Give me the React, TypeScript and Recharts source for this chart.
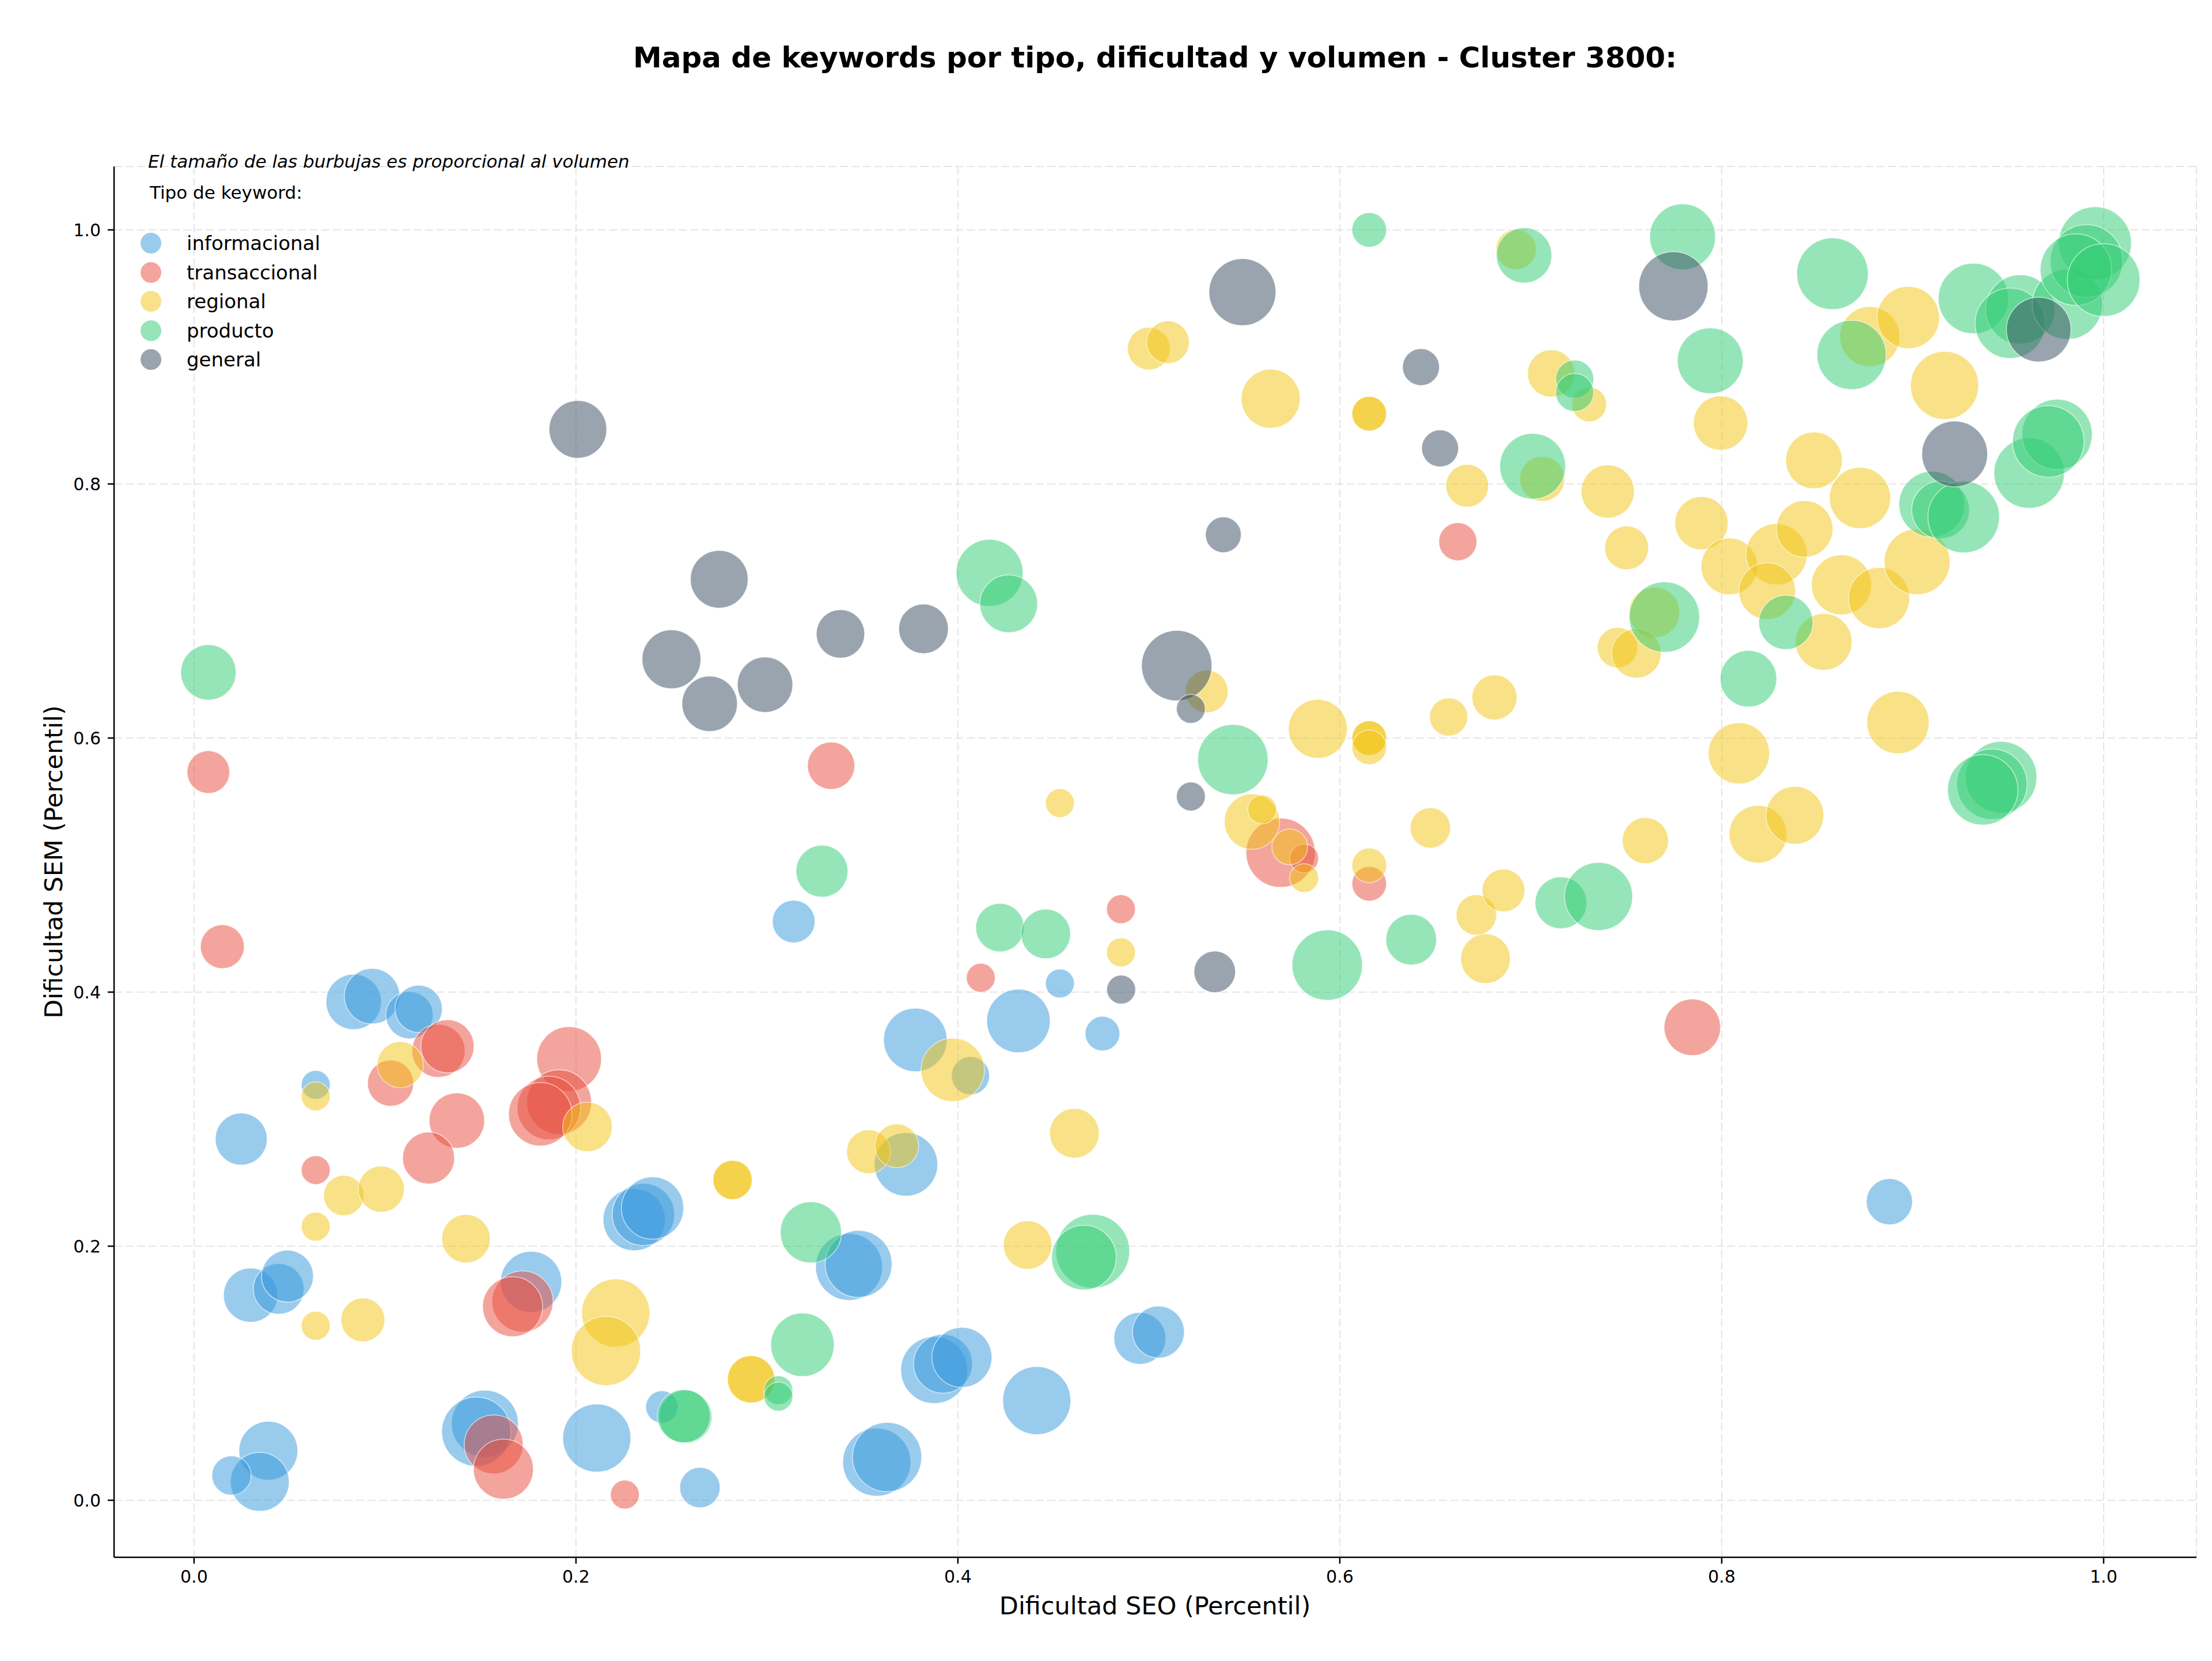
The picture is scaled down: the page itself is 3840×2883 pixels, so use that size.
import React from 'react';
import {
  ScatterChart,
  Scatter,
  XAxis,
  YAxis,
  ZAxis,
  CartesianGrid,
  Legend,
} from 'recharts';

// seo = Dificultad SEO (percentil), sem = Dificultad SEM (percentil), vol = volumen
const informacional = [
  { seo: 0.0637, sem: 0.327, vol: 625 },
  { seo: 0.314, sem: 0.4556, vol: 1369 },
  { seo: 0.0836, sem: 0.3923, vol: 2304 },
  { seo: 0.0932, sem: 0.3968, vol: 2304 },
  { seo: 0.1128, sem: 0.3819, vol: 1681 },
  { seo: 0.1176, sem: 0.3868, vol: 1681 },
  { seo: 0.0247, sem: 0.2843, vol: 2025 },
  { seo: 0.2305, sem: 0.2209, vol: 2916 },
  { seo: 0.2353, sem: 0.225, vol: 2916 },
  { seo: 0.2401, sem: 0.23, vol: 2916 },
  { seo: 0.0296, sem: 0.1615, vol: 2209 },
  { seo: 0.0443, sem: 0.1664, vol: 1936 },
  { seo: 0.0489, sem: 0.1764, vol: 2025 },
  { seo: 0.1765, sem: 0.1719, vol: 2809 },
  { seo: 0.2109, sem: 0.049, vol: 3481 },
  { seo: 0.2649, sem: 0.01, vol: 1225 },
  { seo: 0.1523, sem: 0.0603, vol: 3364 },
  { seo: 0.1478, sem: 0.054, vol: 3600 },
  { seo: 0.0389, sem: 0.039, vol: 2601 },
  { seo: 0.0344, sem: 0.0145, vol: 2601 },
  { seo: 0.0196, sem: 0.0195, vol: 1156 },
  { seo: 0.245, sem: 0.0735, vol: 784 },
  { seo: 0.3728, sem: 0.2644, vol: 3025 },
  { seo: 0.343, sem: 0.1837, vol: 3364 },
  { seo: 0.348, sem: 0.186, vol: 3364 },
  { seo: 0.3876, sem: 0.1025, vol: 3364 },
  { seo: 0.3922, sem: 0.1075, vol: 2601 },
  { seo: 0.4021, sem: 0.1125, vol: 2704 },
  { seo: 0.4413, sem: 0.0785, vol: 3481 },
  { seo: 0.4953, sem: 0.1274, vol: 2025 },
  { seo: 0.505, sem: 0.1324, vol: 2025 },
  { seo: 0.3575, sem: 0.03, vol: 3481 },
  { seo: 0.3629, sem: 0.034, vol: 3600 },
  { seo: 0.8878, sem: 0.235, vol: 1600 },
  { seo: 0.3777, sem: 0.3624, vol: 3025 },
  { seo: 0.4317, sem: 0.3773, vol: 3025 },
  { seo: 0.4757, sem: 0.3673, vol: 900 },
  { seo: 0.4534, sem: 0.4068, vol: 625 },
  { seo: 0.4066, sem: 0.3342, vol: 1089 },
];

const transaccional = [
  { seo: 0.0075, sem: 0.5732, vol: 1369 },
  { seo: 0.0148, sem: 0.4358, vol: 1444 },
  { seo: 0.0637, sem: 0.2599, vol: 625 },
  { seo: 0.1029, sem: 0.3283, vol: 1600 },
  { seo: 0.128, sem: 0.3538, vol: 2116 },
  { seo: 0.1327, sem: 0.3574, vol: 2116 },
  { seo: 0.1964, sem: 0.3474, vol: 3136 },
  { seo: 0.1912, sem: 0.3134, vol: 3136 },
  { seo: 0.1858, sem: 0.3088, vol: 3025 },
  { seo: 0.1813, sem: 0.3039, vol: 3025 },
  { seo: 0.1376, sem: 0.2989, vol: 2304 },
  { seo: 0.1228, sem: 0.2694, vol: 2025 },
  { seo: 0.172, sem: 0.1565, vol: 2809 },
  { seo: 0.1668, sem: 0.1524, vol: 2704 },
  { seo: 0.1569, sem: 0.044, vol: 2601 },
  { seo: 0.162, sem: 0.0245, vol: 2704 },
  { seo: 0.2256, sem: 0.0045, vol: 625 },
  { seo: 0.3336, sem: 0.5782, vol: 1681 },
  { seo: 0.412, sem: 0.4113, vol: 625 },
  { seo: 0.4854, sem: 0.4653, vol: 625 },
  { seo: 0.569, sem: 0.5097, vol: 3600 },
  { seo: 0.5813, sem: 0.5052, vol: 625 },
  { seo: 0.6154, sem: 0.4853, vol: 900 },
  { seo: 0.6618, sem: 0.7546, vol: 1089 },
  { seo: 0.7846, sem: 0.3723, vol: 2401 },
];

const regional = [
  { seo: 0.0637, sem: 0.318, vol: 625 },
  { seo: 0.108, sem: 0.3429, vol: 1600 },
  { seo: 0.206, sem: 0.2939, vol: 1849 },
  { seo: 0.0784, sem: 0.2399, vol: 1225 },
  { seo: 0.098, sem: 0.2449, vol: 1600 },
  { seo: 0.0637, sem: 0.2154, vol: 625 },
  { seo: 0.1424, sem: 0.2059, vol: 1764 },
  { seo: 0.282, sem: 0.2522, vol: 1156 },
  { seo: 0.282, sem: 0.2522, vol: 1156 },
  { seo: 0.2917, sem: 0.0952, vol: 1681 },
  { seo: 0.2917, sem: 0.0952, vol: 1681 },
  { seo: 0.0637, sem: 0.1374, vol: 625 },
  { seo: 0.0884, sem: 0.142, vol: 1444 },
  { seo: 0.2208, sem: 0.1474, vol: 3481 },
  { seo: 0.2157, sem: 0.1175, vol: 3600 },
  { seo: 0.3532, sem: 0.2744, vol: 1444 },
  { seo: 0.368, sem: 0.279, vol: 1444 },
  { seo: 0.461, sem: 0.2889, vol: 1849 },
  { seo: 0.4365, sem: 0.2009, vol: 1764 },
  { seo: 0.3973, sem: 0.3388, vol: 3025 },
  { seo: 0.4854, sem: 0.4313, vol: 625 },
  { seo: 0.4534, sem: 0.5488, vol: 625 },
  { seo: 0.5, sem: 0.9066, vol: 1369 },
  { seo: 0.51, sem: 0.9116, vol: 1369 },
  { seo: 0.5638, sem: 0.8671, vol: 2601 },
  { seo: 0.6154, sem: 0.8553, vol: 900 },
  { seo: 0.6154, sem: 0.8553, vol: 900 },
  { seo: 0.6667, sem: 0.7986, vol: 1369 },
  { seo: 0.5303, sem: 0.6367, vol: 1369 },
  { seo: 0.5885, sem: 0.6073, vol: 2601 },
  { seo: 0.6154, sem: 0.6, vol: 900 },
  { seo: 0.6154, sem: 0.6, vol: 900 },
  { seo: 0.6154, sem: 0.5927, vol: 900 },
  { seo: 0.657, sem: 0.6166, vol: 1089 },
  { seo: 0.681, sem: 0.632, vol: 1521 },
  { seo: 0.554, sem: 0.5342, vol: 2304 },
  { seo: 0.5593, sem: 0.5438, vol: 625 },
  { seo: 0.5738, sem: 0.5143, vol: 961 },
  { seo: 0.5813, sem: 0.4898, vol: 625 },
  { seo: 0.6154, sem: 0.4998, vol: 900 },
  { seo: 0.6474, sem: 0.5293, vol: 1225 },
  { seo: 0.6715, sem: 0.4608, vol: 1225 },
  { seo: 0.6763, sem: 0.4263, vol: 1849 },
  { seo: 0.6857, sem: 0.48, vol: 1369 },
  { seo: 0.6923, sem: 0.9846, vol: 1225 },
  { seo: 0.706, sem: 0.804, vol: 1521 },
  { seo: 0.7107, sem: 0.887, vol: 1681 },
  { seo: 0.7306, sem: 0.8626, vol: 900 },
  { seo: 0.8775, sem: 0.916, vol: 2704 },
  { seo: 0.8977, sem: 0.931, vol: 2916 },
  { seo: 0.7647, sem: 0.6989, vol: 1936 },
  { seo: 0.7454, sem: 0.6712, vol: 1225 },
  { seo: 0.7553, sem: 0.6667, vol: 1849 },
  { seo: 0.8534, sem: 0.6757, vol: 2401 },
  { seo: 0.8923, sem: 0.6122, vol: 2916 },
  { seo: 0.809, sem: 0.588, vol: 2809 },
  { seo: 0.76, sem: 0.5193, vol: 1600 },
  { seo: 0.819, sem: 0.5243, vol: 2500 },
  { seo: 0.8383, sem: 0.5392, vol: 2500 },
  { seo: 0.7994, sem: 0.848, vol: 2209 },
  { seo: 0.7403, sem: 0.7941, vol: 2116 },
  { seo: 0.7502, sem: 0.7497, vol: 1444 },
  { seo: 0.7894, sem: 0.7692, vol: 2116 },
  { seo: 0.804, sem: 0.7351, vol: 2401 },
  { seo: 0.8287, sem: 0.7447, vol: 2809 },
  { seo: 0.8434, sem: 0.7646, vol: 2401 },
  { seo: 0.8483, sem: 0.8186, vol: 2401 },
  { seo: 0.8724, sem: 0.789, vol: 2809 },
  { seo: 0.9167, sem: 0.8776, vol: 3481 },
  { seo: 0.8238, sem: 0.7157, vol: 2401 },
  { seo: 0.8627, sem: 0.7206, vol: 2704 },
  { seo: 0.8824, sem: 0.7102, vol: 2809 },
  { seo: 0.9023, sem: 0.7388, vol: 3249 },
];

const producto = [
  { seo: 0.6154, sem: 1.0, vol: 900 },
  { seo: 0.6965, sem: 0.98, vol: 2304 },
  { seo: 0.4166, sem: 0.73, vol: 3364 },
  { seo: 0.4266, sem: 0.7057, vol: 2500 },
  { seo: 0.7795, sem: 0.9946, vol: 3249 },
  { seo: 0.858, sem: 0.9655, vol: 3844 },
  { seo: 0.794, sem: 0.897, vol: 3249 },
  { seo: 0.868, sem: 0.9016, vol: 3600 },
  { seo: 0.9318, sem: 0.946, vol: 3721 },
  { seo: 0.9563, sem: 0.9374, vol: 3600 },
  { seo: 0.9511, sem: 0.9265, vol: 3721 },
  { seo: 0.981, sem: 0.9415, vol: 3721 },
  { seo: 0.9955, sem: 0.9896, vol: 3969 },
  { seo: 0.991, sem: 0.9755, vol: 3969 },
  { seo: 0.9855, sem: 0.9687, vol: 3844 },
  { seo: 1.0, sem: 0.9605, vol: 3969 },
  { seo: 0.701, sem: 0.814, vol: 3249 },
  { seo: 0.723, sem: 0.8825, vol: 1089 },
  { seo: 0.723, sem: 0.872, vol: 1089 },
  { seo: 0.961, sem: 0.8086, vol: 3721 },
  { seo: 0.9756, sem: 0.839, vol: 3721 },
  { seo: 0.971, sem: 0.8335, vol: 3844 },
  { seo: 0.91, sem: 0.784, vol: 3249 },
  { seo: 0.9146, sem: 0.7796, vol: 2500 },
  { seo: 0.9267, sem: 0.774, vol: 3844 },
  { seo: 0.77, sem: 0.6952, vol: 3721 },
  { seo: 0.8336, sem: 0.691, vol: 2209 },
  { seo: 0.814, sem: 0.6467, vol: 2401 },
  { seo: 0.9463, sem: 0.5692, vol: 3844 },
  { seo: 0.9415, sem: 0.5637, vol: 3721 },
  { seo: 0.9367, sem: 0.5592, vol: 3721 },
  { seo: 0.7158, sem: 0.4703, vol: 2025 },
  { seo: 0.7355, sem: 0.4753, vol: 3481 },
  { seo: 0.544, sem: 0.583, vol: 3721 },
  { seo: 0.3288, sem: 0.4952, vol: 2025 },
  { seo: 0.422, sem: 0.4508, vol: 1764 },
  { seo: 0.446, sem: 0.4458, vol: 1849 },
  { seo: 0.5934, sem: 0.4213, vol: 3721 },
  { seo: 0.6374, sem: 0.4413, vol: 1936 },
  { seo: 0.0075, sem: 0.6517, vol: 2304 },
  { seo: 0.323, sem: 0.2109, vol: 2809 },
  { seo: 0.3186, sem: 0.1224, vol: 3025 },
  { seo: 0.2573, sem: 0.0658, vol: 2116 },
  { seo: 0.2565, sem: 0.0662, vol: 2116 },
  { seo: 0.306, sem: 0.0866, vol: 625 },
  { seo: 0.306, sem: 0.0816, vol: 625 },
  { seo: 0.4706, sem: 0.196, vol: 4096 },
  { seo: 0.466, sem: 0.191, vol: 3136 },
];

const general = [
  { seo: 0.201, sem: 0.843, vol: 2500 },
  { seo: 0.275, sem: 0.725, vol: 2500 },
  { seo: 0.549, sem: 0.951, vol: 3364 },
  { seo: 0.6425, sem: 0.892, vol: 1024 },
  { seo: 0.6525, sem: 0.828, vol: 1024 },
  { seo: 0.539, sem: 0.76, vol: 961 },
  { seo: 0.3385, sem: 0.682, vol: 1764 },
  { seo: 0.382, sem: 0.686, vol: 1849 },
  { seo: 0.25, sem: 0.662, vol: 2601 },
  { seo: 0.27, sem: 0.627, vol: 2304 },
  { seo: 0.299, sem: 0.642, vol: 2304 },
  { seo: 0.5146, sem: 0.657, vol: 3721 },
  { seo: 0.522, sem: 0.623, vol: 625 },
  { seo: 0.522, sem: 0.554, vol: 625 },
  { seo: 0.5345, sem: 0.416, vol: 1296 },
  { seo: 0.4855, sem: 0.402, vol: 625 },
  { seo: 0.7747, sem: 0.9556, vol: 3600 },
  { seo: 0.966, sem: 0.9215, vol: 3136 },
  { seo: 0.922, sem: 0.8236, vol: 3249 },
];

const tipos = [
  { name: 'informacional', color: '#3498db', data: informacional },
  { name: 'transaccional', color: '#e74c3c', data: transaccional },
  { name: 'regional', color: '#f1c40f', data: regional },
  { name: 'producto', color: '#2ecc71', data: producto },
  { name: 'general', color: '#34495e', data: general },
];

const ticks = [0, 0.2, 0.4, 0.6, 0.8, 1.0];

const FONT = '"DejaVu Sans", sans-serif';

const Bubble = (props: any) => {
  const { cx, cy, width, color } = props;
  if (cx == null || cy == null) return null;
  return (
    <circle
      cx={cx}
      cy={cy}
      r={width / 2}
      fill={color}
      fillOpacity={0.5}
      stroke="#ffffff"
      strokeOpacity={0.6}
      strokeWidth={1.5}
    />
  );
};

const LegendBox = () => (
  <div style={{ position: 'relative', width: 700, height: 420, fontFamily: FONT }}>
    <div
      style={{
        position: 'absolute',
        left: 27,
        top: 30,
        transform: 'translateY(-50%)',
        fontSize: 31,
        fontStyle: 'italic',
        whiteSpace: 'nowrap',
        color: '#000',
      }}
    >
      El tamaño de las burbujas es proporcional al volumen
    </div>
    <div
      style={{
        position: 'absolute',
        left: 30,
        top: 84,
        transform: 'translateY(-50%)',
        fontSize: 31,
        whiteSpace: 'nowrap',
        color: '#000',
      }}
    >
      Tipo de keyword:
    </div>
    {tipos.map((t, i) => (
      <div
        key={t.name}
        style={{
          position: 'absolute',
          left: 14,
          top: 172 + i * 50.5,
          transform: 'translateY(-50%)',
          display: 'flex',
          alignItems: 'center',
          whiteSpace: 'nowrap',
        }}
      >
        <svg width={36} height={36}>
          <circle cx={18} cy={18} r={18} fill={t.color} fillOpacity={0.5} />
        </svg>
        <span style={{ marginLeft: 44, fontSize: 34, color: '#000' }}>{t.name}</span>
      </div>
    ))}
  </div>
);

export default function App() {
  return (
    <div
      style={{
        position: 'absolute',
        left: 0,
        top: 0,
        width: 3840,
        height: 2883,
        background: '#fff',
        fontFamily: FONT,
      }}
    >
      <div
        style={{
          position: 'absolute',
          left: 2005,
          top: 100,
          transform: 'translate(-50%, -50%)',
          fontSize: 50,
          fontWeight: 'bold',
          whiteSpace: 'nowrap',
        }}
      >
        Mapa de keywords por tipo, dificultad y volumen - Cluster 3800:
      </div>
      <ScatterChart
        width={3840}
        height={2883}
        margin={{ top: 289, right: 27, bottom: 100, left: 78 }}
      >
        <CartesianGrid stroke="#dedede" strokeWidth={1.6} strokeDasharray="14 6" />
        <XAxis
          type="number"
          dataKey="seo"
          domain={[-0.0419, 1.0486]}
          allowDataOverflow
          ticks={ticks}
          tickFormatter={(v: number) => v.toFixed(1)}
          height={80}
          tickSize={11}
          tickMargin={12}
          axisLine={{ stroke: '#000', strokeWidth: 2.5 }}
          tickLine={{ stroke: '#000', strokeWidth: 2.5 }}
          tick={{ fill: '#000', fontSize: 30, fontFamily: FONT }}
        />
        <YAxis
          type="number"
          dataKey="sem"
          domain={[-0.0449, 1.0499]}
          allowDataOverflow
          ticks={ticks}
          tickFormatter={(v: number) => v.toFixed(1)}
          width={120}
          tickSize={11}
          tickMargin={12}
          axisLine={{ stroke: '#000', strokeWidth: 2.5 }}
          tickLine={{ stroke: '#000', strokeWidth: 2.5 }}
          tick={{ fill: '#000', fontSize: 30, fontFamily: FONT }}
        />
        <ZAxis type="number" dataKey="vol" domain={[0, 5000]} range={[0, 5000 * Math.PI]} />
        {tipos.map((t) => (
          <Scatter
            key={t.name}
            name={t.name}
            data={t.data}
            fill={t.color}
            isAnimationActive={false}
            shape={(p: any) => <Bubble {...p} color={t.color} />}
          />
        ))}
        <Legend
          layout="vertical"
          align="center"
          verticalAlign="middle"
          content={<LegendBox />}
          wrapperStyle={{ top: 250, left: 230, width: 700, height: 420 }}
        />
      </ScatterChart>
      <div
        style={{
          position: 'absolute',
          left: 2005,
          top: 2787,
          transform: 'translate(-50%, -50%)',
          fontSize: 43,
          whiteSpace: 'nowrap',
        }}
      >
        Dificultad SEO (Percentil)
      </div>
      <div
        style={{
          position: 'absolute',
          left: 93,
          top: 1496,
          transform: 'translate(-50%, -50%) rotate(-90deg)',
          fontSize: 43,
          whiteSpace: 'nowrap',
        }}
      >
        Dificultad SEM (Percentil)
      </div>
    </div>
  );
}
